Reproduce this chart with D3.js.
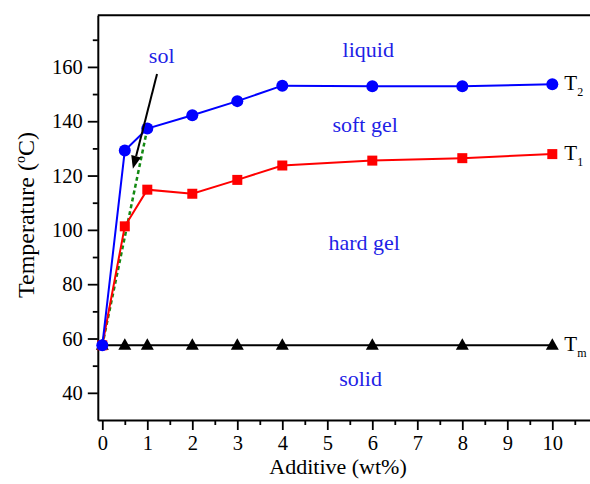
<!DOCTYPE html>
<html>
<head>
<meta charset="utf-8">
<script src="https://cdn.jsdelivr.net/npm/d3@7"></script>
<style>
  body { margin: 0; background: #fff; }
  svg { display: block; overflow: hidden; }
  text { font-family: "Liberation Serif", "Times New Roman", serif; }
</style>
</head>
<body>
<div id="chart"></div>
<script>
// Data
const additive = [0, 0.5, 1, 2, 3, 4, 6, 8, 10];
const t2Values = [57.5, 129.2, 137.3, 142.2, 147.4, 153.1, 152.9, 152.9, 153.6];
const t1Values = [57.5, 101.3, 114.8, 113.3, 118.4, 123.7, 125.5, 126.4, 127.9];
const tmValues = [57.5, 57.5, 57.5, 57.5, 57.5, 57.5, 57.5, 57.5, 57.5];

// dashed green guide line (sol boundary) and arrow, in data units
const solLine = [[0, 57.5], [1, 137.3]];
const arrowFrom = [1.216, 157.4];
const arrowTo = [0.68, 122.5];

// region labels (baseline positions in data units)
const regionLabels = [
  { text: 'liquid', x: 5.91, y: 163.8 },
  { text: 'soft gel', x: 5.84, y: 136.2 },
  { text: 'hard gel', x: 5.82, y: 92.7 },
  { text: 'solid', x: 5.74, y: 42.7 },
  { text: 'sol', x: 1.32, y: 161.4 }
];

const yMajor = [40, 60, 80, 100, 120, 140, 160];
const yMinor = [50, 70, 90, 110, 130, 150, 170];
const xMajor = [0, 1, 2, 3, 4, 5, 6, 7, 8, 9, 10];
const xMinor = [0.5, 1.5, 2.5, 3.5, 4.5, 5.5, 6.5, 7.5, 8.5, 9.5, 10.5];

const width = 590, height = 484;
const svg = d3.select('#chart').append('svg')
  .attr('width', width)
  .attr('height', height);

const xScale = d3.scaleLinear().domain([-0.1, 11]).range([97.8, 597.3]);
const yScale = d3.scaleLinear().domain([30, 179]).range([420, 15.3]);

const blue = '#0000ff', red = '#ff0000', textBlue = '#1f1fe6';

// frame top line
svg.append('line')
  .attr('x1', xScale(-0.1)).attr('x2', xScale(11))
  .attr('y1', yScale(179)).attr('y2', yScale(179))
  .attr('stroke', '#000').attr('stroke-width', 2);

// Y axis
svg.append('g')
  .attr('transform', `translate(${xScale(-0.1)},0)`)
  .call(d3.axisLeft(yScale).tickValues(yMajor).tickSize(10).tickPadding(5).tickSizeOuter(0));
svg.append('g')
  .attr('transform', `translate(${xScale(-0.1)},0)`)
  .call(d3.axisLeft(yScale).tickValues(yMinor).tickSize(5).tickFormat('').tickSizeOuter(0))
  .select('.domain').remove();

// X axis
svg.append('g')
  .attr('transform', `translate(0,${yScale(30)})`)
  .call(d3.axisBottom(xScale).tickValues(xMajor).tickSize(10).tickPadding(5).tickSizeOuter(0));
svg.append('g')
  .attr('transform', `translate(0,${yScale(30)})`)
  .call(d3.axisBottom(xScale).tickValues(xMinor).tickSize(5).tickFormat('').tickSizeOuter(0))
  .select('.domain').remove();

svg.selectAll('.domain').attr('stroke-width', 2);
svg.selectAll('.tick line').attr('stroke-width', 1.8);
svg.selectAll('.tick text')
  .style('font-family', '"Liberation Serif", "Times New Roman", serif')
  .style('font-size', '20.5px')
  .attr('fill', '#000');

// axis titles
svg.append('text')
  .attr('transform', 'rotate(-90)')
  .attr('x', -298)
  .attr('y', 34)
  .style('text-anchor', 'start')
  .style('font-size', '24px')
  .html('Temperature (<tspan dy="-9" font-size="14px">o</tspan><tspan dy="9">C)</tspan>');

svg.append('text')
  .attr('x', 338)
  .attr('y', 474)
  .style('text-anchor', 'middle')
  .style('font-size', '22px')
  .text('Additive (wt%)');

// green dashed line
svg.append('path')
  .datum(solLine)
  .attr('d', d3.line().x(d => xScale(d[0])).y(d => yScale(d[1])))
  .attr('fill', 'none')
  .attr('stroke', '#138a13')
  .attr('stroke-width', 2.5)
  .attr('stroke-dasharray', '4,3');

const line = d3.line().x(d => xScale(d[0])).y(d => yScale(d[1]));

// Tm line + triangles
const tmData = additive.map((x, i) => [x, tmValues[i]]);
svg.append('path').datum(tmData).attr('d', line)
  .attr('fill', 'none').attr('stroke', '#000').attr('stroke-width', 2);
svg.selectAll('.tri').data(tmData).enter().append('path')
  .attr('transform', d => `translate(${xScale(d[0])},${yScale(d[1])})`)
  .attr('d', 'M0,-7L6.5,4.5L-6.5,4.5Z')
  .attr('fill', '#000');

// T1 line + squares
const t1Data = additive.map((x, i) => [x, t1Values[i]]);
svg.append('path').datum(t1Data).attr('d', line)
  .attr('fill', 'none').attr('stroke', red).attr('stroke-width', 2);
svg.selectAll('.sq').data(t1Data).enter().append('rect')
  .attr('x', d => xScale(d[0]) - 5)
  .attr('y', d => yScale(d[1]) - 5)
  .attr('width', 10).attr('height', 10)
  .attr('fill', red);

// T2 line + circles
const t2Data = additive.map((x, i) => [x, t2Values[i]]);
svg.append('path').datum(t2Data).attr('d', line)
  .attr('fill', 'none').attr('stroke', blue).attr('stroke-width', 2);
svg.selectAll('.circ').data(t2Data).enter().append('circle')
  .attr('cx', d => xScale(d[0]))
  .attr('cy', d => yScale(d[1]))
  .attr('r', 6)
  .attr('fill', blue);

// arrow
const ax1 = xScale(arrowFrom[0]), ay1 = yScale(arrowFrom[1]);
const ax2 = xScale(arrowTo[0]), ay2 = yScale(arrowTo[1]);
const ang = Math.atan2(ay2 - ay1, ax2 - ax1);
const headLen = 13, headW = 5;
const bx = ax2 - headLen * Math.cos(ang), by = ay2 - headLen * Math.sin(ang);
svg.append('line')
  .attr('x1', ax1).attr('y1', ay1).attr('x2', bx).attr('y2', by)
  .attr('stroke', '#000').attr('stroke-width', 2);
svg.append('path')
  .attr('d', `M${ax2},${ay2}L${bx + headW * Math.sin(ang)},${by - headW * Math.cos(ang)}L${bx - headW * Math.sin(ang)},${by + headW * Math.cos(ang)}Z`)
  .attr('fill', '#000');

// region labels
svg.selectAll('.region').data(regionLabels).enter().append('text')
  .attr('x', d => xScale(d.x))
  .attr('y', d => yScale(d.y))
  .style('text-anchor', 'middle')
  .style('font-size', '22px')
  .attr('fill', textBlue)
  .text(d => d.text);

// series labels at the right end
const seriesLabels = [
  { sub: '2', y: t2Values[8] },
  { sub: '1', y: t1Values[8] },
  { sub: 'm', y: tmValues[8] }
];
seriesLabels.forEach(s => {
  svg.append('text')
    .attr('x', xScale(10) + 12)
    .attr('y', yScale(s.y) + 6)
    .style('font-size', '21px')
    .html(`T<tspan dy="6" font-size="12px">${s.sub}</tspan>`);
});
</script>
</body>
</html>
